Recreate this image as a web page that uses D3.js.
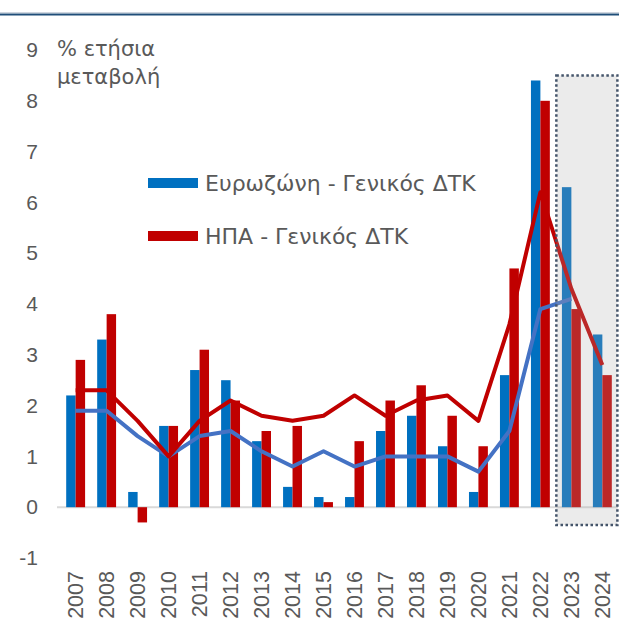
<!DOCTYPE html>
<html>
<head>
<meta charset="utf-8">
<script src="https://cdn.jsdelivr.net/npm/d3@7"></script>
<style>
  body { margin: 0; background: #fff; }
  svg { display: block; font-family: "Liberation Sans", Arial, sans-serif; }
</style>
</head>
<body>
<svg id="chart" width="619" height="621"></svg>
<script>
// years on the x axis
let years = ["2007","2008","2009","2010","2011","2012","2013","2014","2015",
             "2016","2017","2018","2019","2020","2021","2022","2023","2024"]

// headline CPI (bars)
let ezHeadline = [2.2,3.3,0.3,1.6,2.7,2.5,1.3,0.4,0.2,0.2,1.5,1.8,1.2,0.3,2.6,8.4,6.3,3.4]
let usHeadline = [2.9,3.8,-0.3,1.6,3.1,2.1,1.5,1.6,0.1,1.3,2.1,2.4,1.8,1.2,4.7,8.0,3.9,2.6]

// core CPI (lines), eurozone line stops at 2023
let ezCore = [1.9,1.9,1.4,1.0,1.4,1.5,1.1,0.8,1.1,0.8,1.0,1.0,1.0,0.7,1.5,3.9,4.1,null]
let usCore = [2.3,2.3,1.7,1.0,1.7,2.1,1.8,1.7,1.8,2.2,1.8,2.1,2.2,1.7,3.6,6.2,4.3,2.8]

let yTicks = [-1,0,1,2,3,4,5,6,7,8,9]
let legendLabels = ["Ευρωζώνη - Γενικός ΔΤΚ", "ΗΠΑ - Γενικός ΔΤΚ"]
let forecastYears = ["2023","2024"]

let svg = d3.select("#chart")

// scales
let xScale = d3.scaleBand()
  .domain(years)
  .range([60, 618])
  .paddingInner(0.39)
  .paddingOuter(0.2)

let xInner = d3.scaleBand()
  .domain(["ez","us"])
  .range([0, xScale.bandwidth()])

let yScale = d3.scaleLinear()
  .domain([-1, 9])
  .range([558, 50])

// top rule
svg.append("line")
  .attr("x1", 0).attr("x2", 619).attr("y1", 12.5).attr("y2", 12.5)
  .attr("stroke", "#cfd5de").attr("stroke-width", 1)
svg.append("line")
  .attr("x1", 0).attr("x2", 619).attr("y1", 14.5).attr("y2", 14.5)
  .attr("stroke", "#1f4e79").attr("stroke-width", 2)

// zero line
svg.append("line")
  .attr("x1", 57).attr("x2", 618)
  .attr("y1", yScale(0)).attr("y2", yScale(0))
  .attr("stroke", "#d9d9d9").attr("stroke-width", 2)

// bars
let barData = years.map((yr, i) => [
  {year: yr, key: "ez", v: ezHeadline[i]},
  {year: yr, key: "us", v: usHeadline[i]}
]).flat()

svg.append("g")
  .selectAll("rect")
  .data(barData)
  .enter()
  .append("rect")
  .attr("x", d => xScale(d.year) + xInner(d.key))
  .attr("width", xInner.bandwidth())
  .attr("y", d => yScale(Math.max(0, d.v)))
  .attr("height", d => Math.abs(yScale(d.v) - yScale(0)))
  .attr("fill", d => d.key == "ez" ? "#0070c0" : "#c00000")

// lines
let cx = yr => xScale(yr) + xScale.bandwidth() / 2

let line = d3.line()
  .defined(p => p[1] != null)
  .x(p => cx(p[0]))
  .y(p => yScale(p[1]))

svg.append("path")
  .datum(years.map((yr, i) => [yr, ezCore[i]]))
  .attr("d", line)
  .attr("fill", "none")
  .attr("stroke", "#4472c4")
  .attr("stroke-width", 4)
  .attr("stroke-linejoin", "round")

svg.append("path")
  .datum(years.map((yr, i) => [yr, usCore[i]]))
  .attr("d", line)
  .attr("fill", "none")
  .attr("stroke", "#c00000")
  .attr("stroke-width", 4)
  .attr("stroke-linejoin", "round")

// forecast shading + dotted frame
let step = xScale.step()
let fx0 = xScale(forecastYears[0]) - step * 0.18
let fx1 = xScale(forecastYears[forecastYears.length - 1]) + xScale.bandwidth() + step * 0.18
svg.append("rect")
  .attr("x", fx0).attr("y", yScale(8.5))
  .attr("width", fx1 - fx0).attr("height", yScale(-0.35) - yScale(8.5))
  .attr("fill", "rgb(170,170,170)").attr("fill-opacity", 0.235)
  .attr("stroke", "#44546a").attr("stroke-width", 2.5)
  .attr("stroke-dasharray", "2.5,2.5")

// y axis
let yAxis = svg.append("g")
  .attr("transform", "translate(40,0)")
  .call(d3.axisLeft(yScale).tickValues(yTicks).tickSize(0).tickPadding(2).tickFormat(d => String(d)))
yAxis.select(".domain").remove()
yAxis.selectAll("text")
  .attr("font-size", 21)
  .attr("font-family", "Liberation Sans, Arial, sans-serif")
  .attr("fill", "#595959")

// x axis
let xAxis = svg.append("g")
  .attr("transform", `translate(0,${yScale(0)})`)
  .call(d3.axisBottom(xScale).tickSize(0))
xAxis.select(".domain").remove()
xAxis.selectAll("text")
  .attr("transform", "rotate(-90)")
  .attr("text-anchor", "end")
  .attr("x", -(571 - yScale(0)))
  .attr("y", 0)
  .attr("dy", "0.35em")
  .attr("font-size", 21.5)
  .attr("font-family", "Liberation Sans, Arial, sans-serif")
  .attr("fill", "#595959")

// unit label
svg.append("text")
  .attr("x", 57).attr("y", 56)
  .attr("font-size", 21).attr("font-family", "DejaVu Sans, sans-serif").attr("fill", "#595959")
  .text("% ετήσια")
svg.append("text")
  .attr("x", 57).attr("y", 84)
  .attr("font-size", 21).attr("font-family", "DejaVu Sans, sans-serif").attr("fill", "#595959")
  .text("μεταβολή")

// legend
let legendColors = ["#0070c0", "#c00000"]
let legend = svg.append("g")
  .selectAll("g")
  .data(legendLabels)
  .enter()
  .append("g")
  .attr("transform", (d, i) => `translate(148,${183 + i * 53})`)
legend.append("rect")
  .attr("x", 0).attr("y", -5).attr("width", 50).attr("height", 10)
  .attr("fill", (d, i) => legendColors[i])
legend.append("text")
  .attr("x", 57).attr("y", 8)
  .attr("font-size", 22).attr("font-family", "DejaVu Sans, sans-serif").attr("fill", "#595959")
  .text(d => d)
</script>
</body>
</html>
